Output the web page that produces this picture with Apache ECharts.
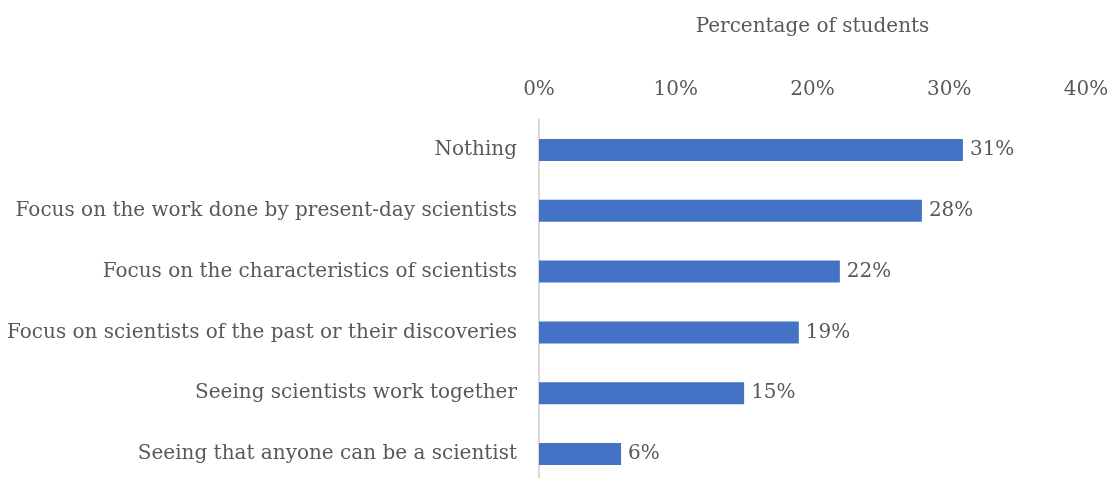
<!DOCTYPE html>
<html>
<head>
<meta charset="utf-8">
<script src="https://cdn.jsdelivr.net/npm/echarts@6/dist/echarts.min.js"></script>
<style>
  html, body { margin: 0; padding: 0; background: #fff; overflow: hidden; }
  #chart { width: 1112px; height: 485px; }
</style>
</head>
<body>
<div id="chart"></div>
<script>
// Categories listed top to bottom
const categories = [
  'Nothing',
  'Focus on the work done by present-day scientists',
  'Focus on the characteristics of scientists',
  'Focus on scientists of the past or their discoveries',
  'Seeing scientists work together',
  'Seeing that anyone can be a scientist'
];
const percentages = [31, 28, 22, 19, 15, 6];
const axisTicks = [0, 10, 20, 30, 40];
const axisTitle = 'Percentage of students';

const FONT = '"DejaVu Serif", serif';
const TEXT = '#595959';
const SIZE = 20;

const chart = echarts.init(document.getElementById('chart'), null, { renderer: 'canvas' });
chart.setOption({
  animation: false,
  grid: { left: 539, right: 26, top: 119.6, bottom: 0.6, containLabel: false },
  xAxis: {
    type: 'value',
    position: 'top',
    min: axisTicks[0],
    max: axisTicks[axisTicks.length - 1],
    interval: axisTicks[1] - axisTicks[0],
    name: axisTitle,
    nameLocation: 'middle',
    nameGap: 83,
    nameTextStyle: { fontFamily: FONT, fontSize: SIZE, color: TEXT },
    axisLine: { show: false },
    axisTick: { show: false },
    splitLine: { show: false },
    axisLabel: {
      fontFamily: FONT, fontSize: SIZE, color: TEXT, margin: 20,
      formatter: v => v + '%'
    }
  },
  yAxis: {
    type: 'category',
    inverse: true,
    data: categories,
    axisLine: { show: true, lineStyle: { color: '#d9d9d9', width: 2 } },
    axisTick: { show: false },
    axisLabel: { fontFamily: FONT, fontSize: SIZE, color: TEXT, margin: 22 }
  },
  series: [{
    type: 'bar',
    data: percentages,
    barWidth: 22,
    itemStyle: { color: '#4472C4' },
    label: {
      show: true,
      position: 'right',
      distance: 7,
      fontFamily: FONT, fontSize: SIZE, color: TEXT,
      formatter: p => p.value + '%'
    }
  }]
});
</script>
</body>
</html>
